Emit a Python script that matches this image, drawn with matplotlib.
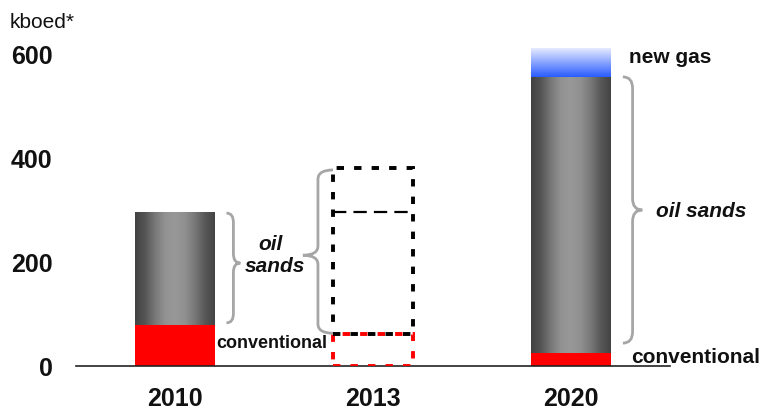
import numpy as np
import matplotlib
matplotlib.use('Agg')
import matplotlib.pyplot as plt
from matplotlib.path import Path
from matplotlib.patches import PathPatch

plt.rcParams['font.family'] = ['Liberation Sans', 'DejaVu Sans']

# 数据 (kboed)
years = ['2010', '2013', '2020']
conventional = [79, 62, 25]
oil_sands = [217, 319, 531]      # 2013 为虚线框 (目标)
oil_sands_mid_2013 = 296         # 2013 中间长虚线
new_gas = [0, 0, 55]
yticks = [0, 200, 400, 600]

txt = '#111111'
W, H = 761, 413
fig = plt.figure(figsize=(W / 100, H / 100), dpi=100)
ax = fig.add_axes([76 / W, 47 / H, 594 / W, 322.4 / H])

x = np.arange(len(years))
bw = 0.4

# 灰色横向渐变
g = np.array([0x42, 0x55, 0x78, 0x92, 0x98, 0x90, 0x78, 0x58, 0x44]) / 255
gx = np.interp(np.linspace(0, 1, 200), np.linspace(0, 1, len(g)), g)
gray_img = np.stack([gx, gx, gx], axis=-1)[None, :, :].repeat(2, axis=0)

# 蓝色纵向渐变
top_c = np.array([0xe6, 0xeb, 0xff]) / 255
bot_c = np.array([0x2a, 0x5c, 0xff]) / 255
tt = np.linspace(0, 1, 100)[:, None]
blue_img = (top_c * (1 - tt) + bot_c * tt)[:, None, :].repeat(2, axis=1)

solid = [0, 2]
# conventional (红色)
ax.bar(x[solid], [conventional[i] for i in solid], width=bw, color='#ff0000',
       edgecolor='none', zorder=2)

# oil sands (灰色渐变)
os_bars = ax.bar(x[solid], [oil_sands[i] for i in solid], width=bw,
                 bottom=[conventional[i] for i in solid], color='none',
                 edgecolor='none', zorder=2)
for b in os_bars:
    x0, y0 = b.get_x(), b.get_y()
    im = ax.imshow(gray_img, extent=[x0, x0 + b.get_width(), y0, y0 + b.get_height()],
                   aspect='auto', zorder=2, interpolation='bilinear')
    im.set_clip_path(b)

# new gas (蓝色渐变)
ng = ax.bar(x[2], new_gas[2], width=bw, bottom=conventional[2] + oil_sands[2],
            color='none', edgecolor='none', zorder=2)[0]
im = ax.imshow(blue_img, extent=[ng.get_x(), ng.get_x() + ng.get_width(),
                                 ng.get_y(), ng.get_y() + ng.get_height()],
               aspect='auto', zorder=2, interpolation='bilinear')
im.set_clip_path(ng)

# 2013 虚线框
ax.bar(x[1], conventional[1], width=bw, fill=False, edgecolor='#ff0000',
       linewidth=2.8, linestyle=(0, (1.9, 2.6)), zorder=3)
ax.bar(x[1], oil_sands[1], width=bw, bottom=conventional[1], fill=False,
       edgecolor='black', linewidth=2.8, linestyle=(0, (1.9, 2.6)), zorder=3)
ax.hlines(oil_sands_mid_2013, x[1] - bw / 2, x[1] + bw / 2, colors='black',
          linewidth=1.6, linestyles=(0, (6, 3.2)), zorder=3)


def brace(ax, xo, xt, y1, y2, ym, r=18):
    # xo: 开口侧 x, xt: 尖端 x
    xm = (xo + xt) / 2
    verts = [(xo, y2), (xm, y2), (xm, y2 - r),
             (xm, ym + r), (xm, ym), (xt, ym),
             (xm, ym), (xm, ym - r),
             (xm, y1 + r), (xm, y1), (xo, y1)]
    codes = [Path.MOVETO, Path.CURVE3, Path.CURVE3,
             Path.LINETO, Path.CURVE3, Path.CURVE3,
             Path.CURVE3, Path.CURVE3,
             Path.LINETO, Path.CURVE3, Path.CURVE3]
    ax.add_patch(PathPatch(Path(verts, codes), fill=False, edgecolor='#a6a6a6',
                           linewidth=2, zorder=4, clip_on=False))


brace(ax, 0.26, 0.33, 83, 294, 198)
brace(ax, 1 - 0.202, 1 - 0.354, 63, 377, 213)
brace(ax, 2 + 0.262, 2 + 0.36, 44, 556, 300, r=22)

# 标注
ax.text(0.48, 233, 'oil', ha='center', va='center', fontsize=15,
        fontweight='bold', style='italic', color=txt)
ax.text(0.505, 192, 'sands', ha='center', va='center', fontsize=15,
        fontweight='bold', style='italic', color=txt)
ax.text(0.207, 44, 'conventional', ha='left', va='center', fontsize=13,
        fontweight='bold', color=txt)
ax.text(2.303, 17, 'conventional', ha='left', va='center', fontsize=15,
        fontweight='bold', color=txt, clip_on=False)
ax.text(2.293, 594, 'new gas', ha='left', va='center', fontsize=15,
        fontweight='bold', color=txt, clip_on=False)
ax.text(2.429, 298, 'oil sands', ha='left', va='center', fontsize=15,
        fontweight='bold', style='italic', color=txt, clip_on=False)

fig.text(10 / W, 1 - 22 / H, 'kboed*', ha='left', va='center', fontsize=15,
         color=txt)

# 坐标轴
ax.set_xlim(-0.5, 2.5)
ax.set_ylim(0, 620)
ax.set_xticks(x)
ax.set_xticklabels(years)
ax.set_yticks(yticks)
ax.set_yticklabels([str(v) for v in yticks])
for lab in ax.get_xticklabels() + ax.get_yticklabels():
    lab.set_fontsize(18)
    lab.set_fontweight('bold')
    lab.set_color(txt)
ax.tick_params(axis='x', length=0, pad=15)
ax.tick_params(axis='y', length=0, pad=17)
for s in ['top', 'right', 'left']:
    ax.spines[s].set_visible(False)
ax.spines['bottom'].set_linewidth(1.2)
ax.spines['bottom'].set_color('#222222')
ax.set_facecolor('none')

fig.savefig('out.png', dpi=100)
